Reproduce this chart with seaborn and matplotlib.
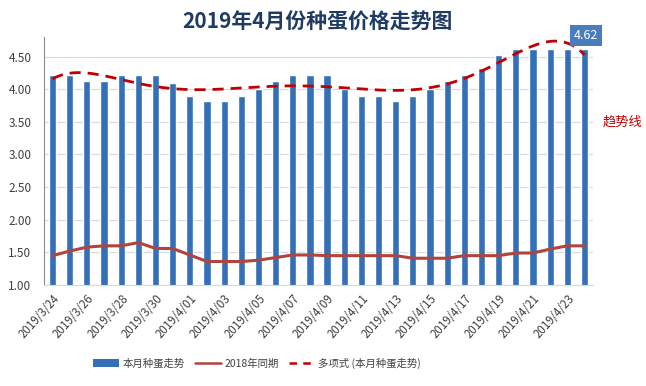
import numpy as np
import pandas as pd
import matplotlib
matplotlib.use("Agg")
import matplotlib.pyplot as plt
import matplotlib.transforms as mtransforms
import seaborn as sns
from matplotlib.patches import Patch
from matplotlib.lines import Line2D

dates = (["2019/3/%d" % d for d in range(24, 32)] +
         ["2019/4/%02d" % d for d in range(1, 25)])
price_2019 = [4.22, 4.22, 4.12, 4.12, 4.22, 4.22, 4.22, 4.10, 3.90, 3.82, 3.82,
              3.90, 4.01, 4.12, 4.22, 4.22, 4.22, 4.01, 3.90, 3.90, 3.82, 3.90,
              4.01, 4.12, 4.22, 4.32, 4.52, 4.62, 4.62, 4.62, 4.62, 4.62]
price_2018 = [1.45, 1.52, 1.58, 1.60, 1.60, 1.65, 1.56, 1.56, 1.46, 1.36, 1.36,
              1.36, 1.38, 1.42, 1.46, 1.46, 1.45, 1.45, 1.45, 1.45, 1.45, 1.41,
              1.41, 1.41, 1.45, 1.45, 1.45, 1.49, 1.49, 1.55, 1.60, 1.60]
yticks = [1.00, 1.50, 2.00, 2.50, 3.00, 3.50, 4.00, 4.50]
title = "2019年4月份种蛋价格走势图"
legend_labels = ["本月种蛋走势", "2018年同期", "多项式 (本月种蛋走势)"]

sns.set_theme(style="white")
plt.rcParams['font.family'] = ['Noto Sans CJK SC', 'DejaVu Sans']

df = pd.DataFrame({"date": dates, "p2019": price_2019, "p2018": price_2018})
idx = np.arange(len(dates))

fig = plt.figure(figsize=(6.46, 3.86), dpi=100)
ax = fig.add_axes([44/646, 1-285/386, (593-44)/646, (285-37)/386])

sns.barplot(data=df, x="date", y="p2019", color="#3470b8", width=0.42,
            saturation=1, ax=ax, zorder=2)
sns.lineplot(x=idx, y=df["p2018"], color="#b0443e", linewidth=2.2, ax=ax,
             zorder=3)

# polynomial trend line (order 6) fitted to the 2019 series
coef = np.polyfit(idx, price_2019, 6)
xs = np.linspace(0, len(dates) - 1, 300)
ax.plot(xs, np.polyval(coef, xs), color="#c00000", linewidth=2.0,
        dashes=(4, 2.5), zorder=4)

ax.set_xlim(-0.5, len(dates) - 0.5)
ax.set_ylim(1.0, 4.8)
ax.set_yticks(yticks)
ax.set_yticklabels(["%.2f" % v for v in yticks], fontsize=8.5, color="#404040")
ax.yaxis.grid(True, color="#d9d9d9", linewidth=0.8)
ax.set_axisbelow(True)
ax.set_xticks(idx[::2])
ax.set_xticklabels(dates[::2], rotation=48, ha="right", rotation_mode="anchor",
                   fontsize=8.3, color="#404040")
offset = mtransforms.ScaledTranslation(-6/100, -6/100, fig.dpi_scale_trans)
for lab in ax.get_xticklabels():
    lab.set_transform(lab.get_transform() + offset)
ax.tick_params(axis="y", length=0, pad=9)
ax.tick_params(axis="x", length=0, pad=5)
ax.set_xlabel("")
ax.set_ylabel("")
for s in ["top", "right"]:
    ax.spines[s].set_visible(False)
ax.spines["left"].set_color("#8c8c8c")
ax.spines["left"].set_linewidth(0.8)
ax.spines["bottom"].set_color("#d9d9d9")
ax.spines["bottom"].set_linewidth(0.8)

# data label for last bar
last = len(dates) - 1
ax.annotate("%.2f" % price_2019[last], xy=(last, price_2019[last]),
            xytext=(1, 9.5), textcoords="offset points", ha="center", va="center",
            fontsize=9, color="white",
            bbox=dict(boxstyle="square,pad=0.3", fc="#4a7dbd", ec="none"),
            zorder=6, annotation_clip=False)

fig.text(603/646, 1-122/386, "趋势线", color="#c00000", fontsize=9.5,
         ha="left", va="center")

fig.text(317/646, 1-22/386, title, ha="center", va="center", fontsize=15,
         fontweight="bold", color="#1f3b63")

handles = [Patch(facecolor="#3470b8", edgecolor="none"),
           Line2D([], [], color="#b0443e", linewidth=1.8),
           Line2D([], [], color="#c00000", linewidth=1.8, dashes=(3, 2.5))]
fig.legend(handles, legend_labels, loc="center", bbox_to_anchor=(257/646, 1-363/386),
           ncol=3, frameon=False, fontsize=7.5, handlelength=2.5,
           handleheight=0.8, columnspacing=1.0, handletextpad=0.3,
           labelcolor="#404040")

fig.savefig("out.png", dpi=100)
